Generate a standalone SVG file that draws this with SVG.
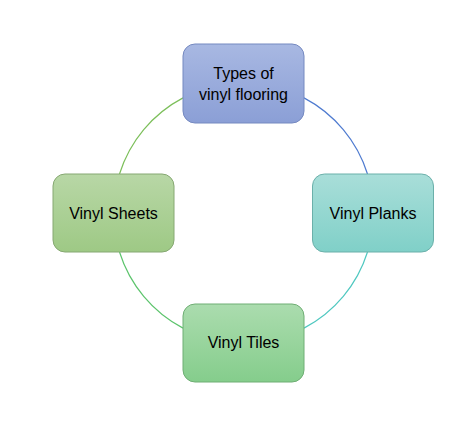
<svg xmlns="http://www.w3.org/2000/svg" width="471" height="431" viewBox="0 0 471 431">
<defs>
<linearGradient id="gTop" x1="0" y1="0" x2="0" y2="1"><stop offset="0" stop-color="#a8b8e2"/><stop offset="1" stop-color="#8b9fd6"/></linearGradient>
<linearGradient id="gRight" x1="0" y1="0" x2="0" y2="1"><stop offset="0" stop-color="#a9ded9"/><stop offset="1" stop-color="#80d0c8"/></linearGradient>
<linearGradient id="gBottom" x1="0" y1="0" x2="0" y2="1"><stop offset="0" stop-color="#abdcae"/><stop offset="1" stop-color="#85cd8c"/></linearGradient>
<linearGradient id="gLeft" x1="0" y1="0" x2="0" y2="1"><stop offset="0" stop-color="#b8d7a6"/><stop offset="1" stop-color="#9ec985"/></linearGradient>
<style>
.box{stroke-width:1}
.lbl{font-family:"Liberation Sans",Arial,sans-serif;font-size:16px;fill:#000;text-anchor:middle}
.arc{fill:none;stroke-width:1.2}
</style>
</defs>
<rect width="471" height="431" fill="#fff"/>
<g id="connectors">
<path class="arc" stroke="#4f7bd0" d="M304,97.9 A130,130 0 0 1 367.5,174"/>
<path class="arc" stroke="#4fc8c0" d="M367.5,252 A130,130 0 0 1 304,328.1"/>
<path class="arc" stroke="#5cc46c" d="M183,328.1 A130,130 0 0 1 119.5,252"/>
<path class="arc" stroke="#7cbf5a" d="M119.5,174 A130,130 0 0 1 183,97.9"/>
</g>
<g id="node-top">
<rect class="box" x="183" y="44" width="121" height="79" rx="12" fill="url(#gTop)" stroke="#7589c0"/>
<text class="lbl" x="243.5" y="79">Types of</text>
<text class="lbl" x="243.5" y="100">vinyl flooring</text>
</g>
<g id="node-right">
<rect class="box" x="312.5" y="174" width="121" height="78" rx="12" fill="url(#gRight)" stroke="#6bb0aa"/>
<text class="lbl" x="373" y="219">Vinyl Planks</text>
</g>
<g id="node-bottom">
<rect class="box" x="183" y="304" width="121" height="78" rx="12" fill="url(#gBottom)" stroke="#6fae74"/>
<text class="lbl" x="243.5" y="348">Vinyl Tiles</text>
</g>
<g id="node-left">
<rect class="box" x="53" y="174" width="121" height="78" rx="12" fill="url(#gLeft)" stroke="#86a872"/>
<text class="lbl" x="113.5" y="219">Vinyl Sheets</text>
</g>
</svg>
